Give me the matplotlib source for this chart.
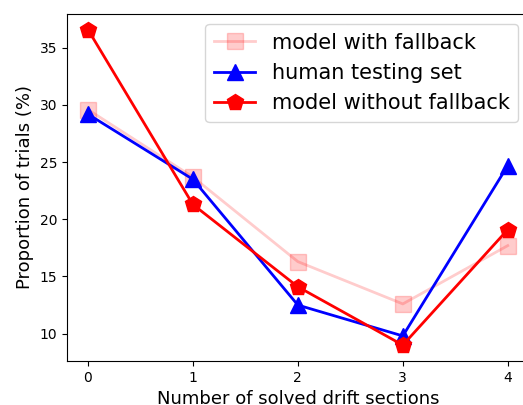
import numpy as np
import matplotlib
matplotlib.use("Agg")
import matplotlib.pyplot as plt

# data
sections = [0, 1, 2, 3, 4]
with_fallback = [29.6, 23.7, 16.3, 12.6, 17.7]
human_set = [29.2, 23.5, 12.5, 9.8, 24.7]
without_fallback = [36.6, 21.3, 14.1, 9.0, 19.1]

fig = plt.figure(figsize=(5.23, 4.05), dpi=100)
ax = fig.add_axes([0.128, 0.109, 0.883, 0.857])

ax.plot(sections, with_fallback, color='red', alpha=0.2, marker='s', markersize=11,
        linewidth=2, label='model with fallback')
ax.plot(sections, human_set, color='blue', marker='^', markersize=11,
        linewidth=2, label='human testing set')
ax.plot(sections, without_fallback, color='red', marker='p', markersize=12,
        linewidth=2, label='model without fallback')

ax.set_xticks(sections)
ax.set_xlabel('Number of solved drift sections', fontsize=13)
ax.set_ylabel('Proportion of trials (%)', fontsize=13)
ax.legend(loc='upper right', fontsize=15)

fig.savefig('out.png', dpi=100)
